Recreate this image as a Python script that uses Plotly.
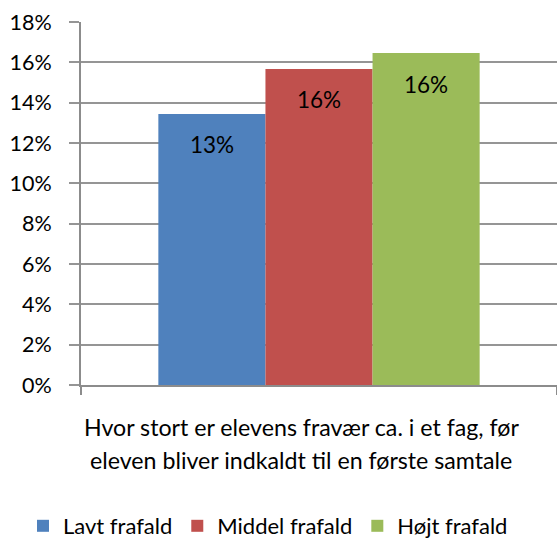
import plotly.graph_objects as go

# Data
category_lines = ["Hvor stort er elevens fravær ca. i et fag, før",
                  "eleven bliver indkaldt til en første samtale"]
category = " ".join(category_lines)
series_names = ["Lavt frafald", "Middel frafald", "Højt frafald"]
series_values = [0.1344, 0.1567, 0.1646]
series_colors = ["#4F81BD", "#C0504D", "#9BBB59"]
y_ticks = [0, 0.02, 0.04, 0.06, 0.08, 0.10, 0.12, 0.14, 0.16, 0.18]

FONT = "Lato"
FS = 21.5
FS_LABEL = 22.5
FS_TITLE = 23.2
FS_LEG = 22
bargap = 0.325
W, H = 557, 539
ML, MR, MT, MB = 81, 0, 22, 154
PW = W - ML - MR
PH = H - MT - MB

fig = go.Figure()
for name, val, col in zip(series_names, series_values, series_colors):
    fig.add_trace(go.Bar(x=[category], y=[val], name=name, marker_color=col,
                         marker_line_width=0, hoverinfo="skip"))

# data labels inside bars, a bit below the top
n = len(series_names)
w = (1 - bargap) / n
for i, val in enumerate(series_values):
    fig.add_annotation(x=(i - (n - 1) / 2) * w, xref="x", y=val, yref="y",
                       text=f"{val:.0%}", showarrow=False, yshift=-31,
                       font=dict(family=FONT, size=FS_LABEL, color="#000"))

# category label (axis title), two lines
for j, line in enumerate(category_lines):
    fig.add_annotation(x=(301 - ML) / PW, xref="paper", y=0, yref="paper",
                       text=line, showarrow=False, xanchor="center", yanchor="middle",
                       yshift=-42 - 33 * j,
                       font=dict(family=FONT, size=FS_TITLE, color="#000"))

fig.update_layout(
    width=W, height=H,
    margin=dict(l=ML, r=MR, t=MT, b=MB, autoexpand=False),
    paper_bgcolor="white", plot_bgcolor="white",
    barmode="group", bargap=bargap, bargroupgap=0,
    font=dict(family=FONT, size=FS, color="#000"),
    showlegend=True,
    legend=dict(orientation="h", xref="paper", yref="paper",
                x=(23 - ML) / PW, xanchor="left", y=-(526 - MT - PH) / PH, yanchor="middle",
                font=dict(family=FONT, size=FS_LEG, color="#000"),
                itemwidth=30, traceorder="normal", bgcolor="rgba(0,0,0,0)"),
    xaxis=dict(showticklabels=False, showgrid=False, ticks="outside",
               tickson="boundaries", ticklen=8, tickcolor="#8c8c8c", tickwidth=2,
               showline=True, linecolor="#8c8c8c", linewidth=2, zeroline=False,
               fixedrange=True),
    yaxis=dict(range=[0, 0.18], tickvals=y_ticks, tickformat=".0%",
               showgrid=True, gridcolor="#959595", gridwidth=2,
               ticks="outside", ticklen=10, tickcolor="#959595", tickwidth=2,
               showline=True, linecolor="#8c8c8c", linewidth=2,
               zeroline=False, ticklabelstandoff=13,
               tickfont=dict(family=FONT, size=FS, color="#000")),
)
fig.write_html("out.html", config={"displayModeBar": False},
               post_script="document.body.style.margin='0px';document.body.style.overflow='hidden';")
